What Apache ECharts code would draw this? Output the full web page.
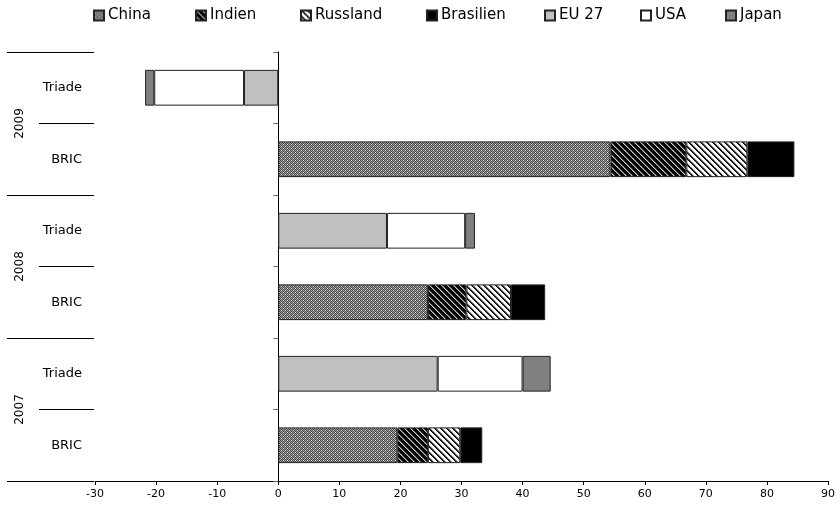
<!DOCTYPE html>
<html>
<head>
<meta charset="utf-8">
<script src="https://cdn.jsdelivr.net/npm/echarts@6/dist/echarts.min.js"></script>
<style>
  html, body { margin: 0; padding: 0; background: #fff; }
  #chart { width: 840px; height: 515px; }
</style>
</head>
<body>
<div id="chart"></div>
<script>
// ---- Data (bottom to top: per year BRIC then Triade) ----
const years = ['2007', '2008', '2009'];
const groups = ['BRIC', 'Triade'];
const seriesNames = ['China', 'Indien', 'Russland', 'Brasilien', 'EU 27', 'USA', 'Japan'];
// BRIC members, values per year 2007, 2008, 2009
const china     = [19.5, 24.5, 54.4];
const indien    = [5.0, 6.3, 12.4];
const russland  = [5.3, 7.3, 10.0];
const brasilien = [3.6, 5.6, 7.7];
// Triade members, values per year 2007, 2008, 2009
const eu27  = [26.1, 17.8, -5.6];
const usa   = [13.9, 12.8, -14.7];
const japan = [4.6, 1.6, -1.5];
const xTicks = { min: -30, max: 90, interval: 10 };

// ---- Build categories ----
const categories = [];
years.forEach(y => groups.forEach(g => categories.push(y + ' ' + g)));

function place(values, group) {
  const out = [];
  years.forEach((y, i) => groups.forEach(g => out.push(g === group ? values[i] : '-')));
  return out;
}

// ---- Patterns ----
function makeCanvas(size, painter) {
  const c = document.createElement('canvas');
  c.width = size; c.height = size;
  const ctx = c.getContext('2d');
  for (let y = 0; y < size; y++) {
    for (let x = 0; x < size; x++) {
      ctx.fillStyle = painter(x, y);
      ctx.fillRect(x, y, 1, 1);
    }
  }
  return c;
}
const chinaPat = makeCanvas(4, (x, y) => {
  if ((x === 1 && y === 2) || (x === 3 && y === 0)) return '#e6e6e6';
  return (x + y) % 2 === 0 ? '#444444' : '#a0a0a0';
});
const indienPat = makeCanvas(6, (x, y) => {
  const m = ((x - y) % 6 + 6) % 6;
  if (m === 0) return '#c8c8c8';
  if (m === 1) return '#5a5a5a';
  return '#000000';
});
const russPat = makeCanvas(6, (x, y) => {
  const m = ((x - y) % 6 + 6) % 6;
  if (m === 0) return '#000000';
  if (m === 1) return '#303030';
  if (m === 2) return '#a0a0a0';
  return '#ffffff';
});
const pat = c => ({ image: c, repeat: 'repeat' });

const fills = {
  'China': pat(chinaPat),
  'Indien': pat(indienPat),
  'Russland': pat(russPat),
  'Brasilien': '#000000',
  'EU 27': '#c0c0c0',
  'USA': '#ffffff',
  'Japan': '#808080'
};
const seriesData = {
  'China': place(china, 'BRIC'),
  'Indien': place(indien, 'BRIC'),
  'Russland': place(russland, 'BRIC'),
  'Brasilien': place(brasilien, 'BRIC'),
  'EU 27': place(eu27, 'Triade'),
  'USA': place(usa, 'Triade'),
  'Japan': place(japan, 'Triade')
};

const FONT = 'DejaVu Sans';
const legendLeft = [93, 195, 300, 426, 544, 640, 725];

const chart = echarts.init(document.getElementById('chart'), null, { renderer: 'canvas' });
chart.setOption({
  animation: false,
  backgroundColor: '#ffffff',
  textStyle: { fontFamily: FONT },
  legend: seriesNames.map((n, i) => ({
    data: [n],
    left: legendLeft[i],
    top: 8,
    padding: 0,
    itemWidth: 10,
    itemHeight: 10,
    itemGap: 0,
    icon: 'rect',
    selectedMode: false,
    textStyle: { fontFamily: FONT, fontSize: 15, color: '#000', padding: [0, 0, 0, -1] }
  })),
  grid: { left: 95, right: 12, top: 52, bottom: 34, containLabel: false },
  xAxis: {
    type: 'value',
    min: xTicks.min, max: xTicks.max, interval: xTicks.interval,
    axisLine: { show: true, onZero: false, lineStyle: { color: '#000', width: 1 } },
    axisTick: { show: true, length: 4, lineStyle: { color: '#000' } },
    axisLabel: { fontFamily: FONT, fontSize: 11, color: '#000', margin: 8 },
    splitLine: { show: false }
  },
  yAxis: [
    {
      type: 'category',
      data: categories,
      axisLine: { show: true, onZero: true, lineStyle: { color: '#000', width: 1 } },
      axisTick: { show: true, length: 5, lineStyle: { color: '#666' } },
      axisLabel: { show: false },
      splitLine: { show: false }
    },
    {
      type: 'category',
      data: categories,
      position: 'left',
      offset: 1,
      axisLine: { show: false },
      axisTick: { show: true, length: 55, lineStyle: { color: '#000', width: 1 } },
      axisLabel: {
        fontFamily: FONT, fontSize: 13, color: '#000', margin: 12,
        formatter: v => v.split(' ')[1]
      },
      splitLine: { show: false }
    },
    {
      type: 'category',
      data: years,
      position: 'left',
      offset: 1,
      axisLine: { show: false },
      axisTick: { show: true, length: 87, lineStyle: { color: '#000', width: 1 } },
      axisLabel: { fontFamily: FONT, fontSize: 12, color: '#000', rotate: 90, margin: 68 },
      splitLine: { show: false }
    }
  ],
  series: seriesNames.map(n => ({
    name: n,
    type: 'bar',
    stack: 'total',
    yAxisIndex: 0,
    barWidth: '50%',
    clip: true,
    data: seriesData[n],
    itemStyle: { color: fills[n], borderColor: '#222', borderWidth: 1 },
    emphasis: { disabled: true }
  }))
});
</script>
</body>
</html>
